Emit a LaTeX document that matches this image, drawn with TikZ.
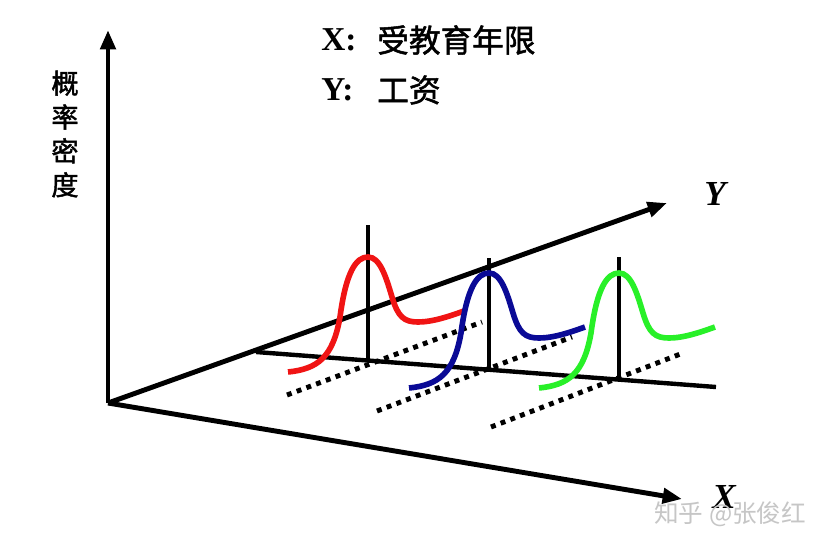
\documentclass[tikz,border=0pt]{standalone}
\usepackage{fontspec}
\setmainfont{Liberation Serif}
\newfontfamily\cjk{Noto Sans CJK SC}
\newfontfamily\cjkb{Noto Sans CJK SC}[FakeBold=1.6]
\usetikzlibrary{arrows.meta}
\definecolor{bellred}{RGB}{240,20,20}
\definecolor{bellblue}{RGB}{10,10,150}
\definecolor{bellgreen}{RGB}{40,240,40}

\begin{document}
\begin{tikzpicture}[x=0.02cm,y=-0.02cm,
      axis/.style={line width=2.8pt,-{Triangle[length=11pt,width=8.5pt]}},
      stem/.style={line width=2.5pt},
      bell/.style={line width=3.2pt},
      dots/.style={line width=2.8pt,dash pattern=on 2.8pt off 3.1pt},
      txt/.style={inner sep=0pt}]
      \useasboundingbox[fill=white] (0,0) rectangle (832,545);
      \coordinate (O) at (108,403);
      \coordinate (ztop) at (108,30);
      \coordinate (ytip) at (667,203);
      \coordinate (xtip) at (682,499);
      \coordinate (b1) at (256,352);
      \coordinate (b2) at (716,387);
      \draw[axis] (O) -- (ztop);
      \draw[axis] (O) -- (ytip);
      \draw[axis] (O) -- (xtip);
      \draw[stem] (b1) -- (b2);
      \coordinate (s1top) at (368,225);
      \coordinate (s1bot) at (368,361);
      \coordinate (s2top) at (489,258);
      \coordinate (s2bot) at (489,370);
      \coordinate (s3top) at (619,257);
      \coordinate (s3bot) at (619,380);
      \draw[stem] (s1top) -- (s1bot);
      \draw[stem] (s2top) -- (s2bot);
      \draw[stem] (s3top) -- (s3bot);
      \coordinate (d1a) at (287,395);
      \coordinate (d1b) at (482,322);
      \coordinate (d2a) at (377,411);
      \coordinate (d2b) at (572,337);
      \coordinate (d3a) at (491,427);
      \coordinate (d3b) at (683,353);
      \draw[dots] (d1a) -- (d1b);
      \draw[dots] (d2a) -- (d2b);
      \draw[dots] (d3a) -- (d3b);
      \foreach \px/\py/\col in {368/257/bellred,489/273/bellblue,619/273/bellgreen}
        \draw[bell,\col,shift={(\px,\py)}] (-80,115)
          .. controls (-50,112) and (-35,100) .. (-28,60)
          .. controls (-22,15) and (-12,0) .. (0,0)
          .. controls (12,0) and (18,20) .. (24,40)
          .. controls (30,60) and (36,65) .. (50,65)
          .. controls (65,65) and (82,59) .. (96,54);
      \node[txt,anchor=west,font=\fontsize{19}{22}\selectfont\bfseries] (xkey) at (321,40) {X:};
      \node[txt,anchor=west,font=\fontsize{18}{22}\selectfont\cjkb] (xname) at (377,40) {受教育年限};
      \node[txt,anchor=west,font=\fontsize{19}{22}\selectfont\bfseries] (ykey) at (321,90) {Y:};
      \node[txt,anchor=west,font=\fontsize{18}{22}\selectfont\cjkb] (yname) at (377,90) {工资};
      \node[txt,align=center,font=\fontsize{15.5}{19.3}\selectfont\cjkb] (zname) at (65,134) {概\\率\\密\\度};
      \node[txt,font=\fontsize{20}{24}\selectfont\bfseries\itshape] (ylab) at (715,194) {Y};
      \node[txt,font=\fontsize{20}{24}\selectfont\bfseries\itshape] (xlab) at (724,497) {X};
      \node[txt,anchor=west,text=gray!45,font=\fontsize{14}{18}\selectfont\cjk] (mark) at (654,514) {知乎 @张俊红};
\end{tikzpicture}
\end{document}
